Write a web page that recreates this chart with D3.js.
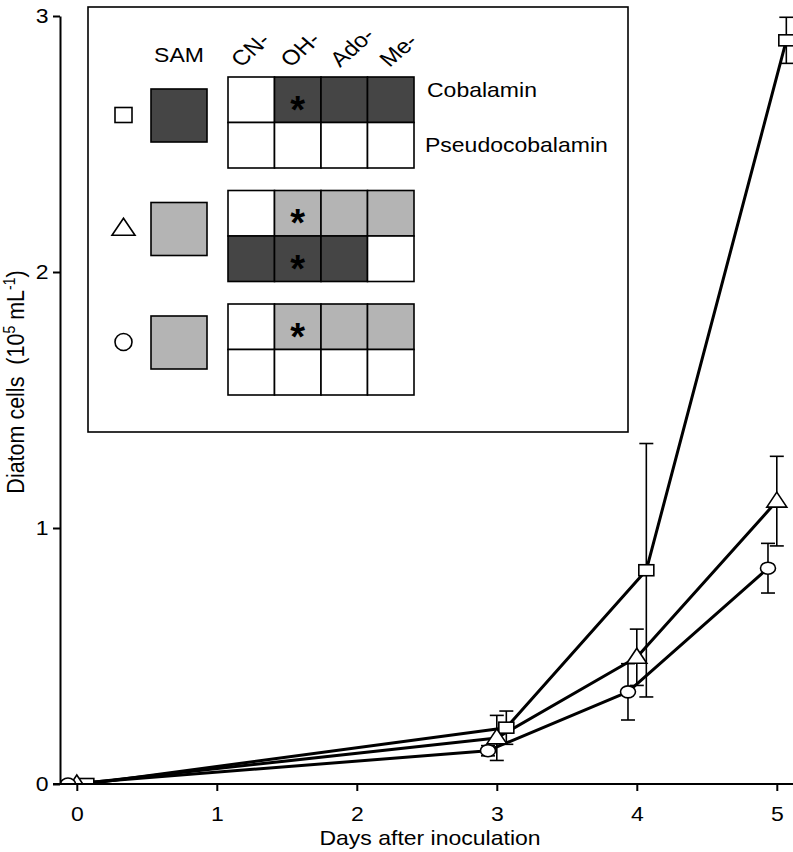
<!DOCTYPE html>
<html><head><meta charset="utf-8">
<script src="https://cdn.jsdelivr.net/npm/d3@7/dist/d3.min.js"></script>
<style>body{margin:0;background:#fff}</style>
</head><body>
<svg id="chart" width="793" height="852"></svg>
<script>
// ---------- data ----------
const days = [0, 3, 4, 5];
const squareMean   = [0.00, 0.22, 0.835, 2.905];
const squareErr    = [0.00, 0.065, 0.495, 0.09];
const triangleMean = [0.00, 0.18, 0.495, 1.105];
const triangleErr  = [0.00, 0.088, 0.11, 0.175];
const circleMean   = [0.00, 0.13, 0.36, 0.843];
const circleErr    = [0.00, 0.02, 0.11, 0.097];
const xTicks = [0, 1, 2, 3, 4, 5];
const yTicks = [0, 1, 2, 3];
const xTitle = "Days after inoculation";
const legendCols = ["CN-", "OH-", "Ado-", "Me-"];
const legendRowLabels = ["Cobalamin", "Pseudocobalamin"];
const legendSymbols = ["square", "triangle", "circle"];
const legendSAM = ["dark", "light", "light"];
const legendCells = [
  [["white","dark","dark","dark"], ["white","white","white","white"]],
  [["white","light","light","light"], ["dark","dark","dark","white"]],
  [["white","light","light","light"], ["white","white","white","white"]]
];
const legendStars = [
  [[0,1,0,0],[0,0,0,0]],
  [[0,1,0,0],[0,1,0,0]],
  [[0,1,0,0],[0,0,0,0]]
];

// ---------- setup ----------
const FONT = "'Liberation Sans', Arial, Helvetica, sans-serif";
const SX = 1.15; // horizontal stretch of the original figure
const fillColor = {white: "#ffffff", dark: "#454545", light: "#b4b4b4"};
const svg = d3.select("#chart");

const x = d3.scaleLinear().domain([-0.12, 5.12]).range([60, 793.6]);
const y = d3.scaleLinear().domain([0, 3]).range([784, 16]);

const series = [
  {symbol: "square",   mean: squareMean,   err: squareErr,   dodge: 0.068},
  {symbol: "triangle", mean: triangleMean, err: triangleErr, dodge: 0.0},
  {symbol: "circle",   mean: circleMean,   err: circleErr,   dodge: -0.063}
];

function drawMarker(g, type, cx, cy, w, h) {
  if (type === "square") {
    g.append("rect").attr("x", cx - w/2).attr("y", cy - h/2).attr("width", w).attr("height", h);
  } else if (type === "triangle") {
    g.append("path").attr("d", `M${cx},${cy - h*0.6}L${cx + w/2},${cy + h*0.4}L${cx - w/2},${cy + h*0.4}Z`);
  } else {
    g.append("ellipse").attr("cx", cx).attr("cy", cy).attr("rx", w/2).attr("ry", h/2);
  }
}
const markerSize = {square: [15, 11], triangle: [20, 15], circle: [15, 12]};

// ---------- clip ----------
svg.append("defs").append("clipPath").attr("id", "plotclip")
  .append("rect").attr("x", 60).attr("y", 0).attr("width", 740).attr("height", 783);

const plot = svg.append("g").attr("clip-path", "url(#plotclip)");

// lines
const line = d3.line().x(d => x(d.x)).y(d => y(d.y));
series.forEach(s => {
  const pts = days.map((d, i) => ({x: d + s.dodge, y: s.mean[i]}));
  plot.append("path").datum(pts).attr("d", line)
    .attr("fill", "none").attr("stroke", "#000").attr("stroke-width", 3)
    .attr("stroke-linejoin", "round");
});
// error bars
series.forEach(s => {
  days.forEach((d, i) => {
    if (s.err[i] <= 0) return;
    const cx = x(d + s.dodge);
    const y1 = y(s.mean[i] + s.err[i]), y2 = y(s.mean[i] - s.err[i]);
    const g = plot.append("g").attr("stroke", "#000").attr("stroke-width", 1.6);
    g.append("line").attr("x1", cx).attr("x2", cx).attr("y1", y1).attr("y2", y2);
    g.append("line").attr("x1", cx - 7).attr("x2", cx + 7).attr("y1", y1).attr("y2", y1);
    g.append("line").attr("x1", cx - 7).attr("x2", cx + 7).attr("y1", y2).attr("y2", y2);
  });
});
// markers
series.forEach(s => {
  const g = plot.append("g").attr("fill", "#fff").attr("stroke", "#000").attr("stroke-width", 1.6);
  days.forEach((d, i) => {
    const [w, h] = markerSize[s.symbol];
    drawMarker(g, s.symbol, x(d + s.dodge), y(s.mean[i]), w, h);
  });
});

// ---------- axes ----------
const xAxis = svg.append("g").attr("transform", `translate(0,${y(0)})`)
  .call(d3.axisBottom(x).tickValues(xTicks).tickFormat(d3.format("d")).tickSize(7).tickPadding(16));
xAxis.select(".domain").remove();
xAxis.selectAll("line").attr("stroke-width", 2);
xAxis.append("line").attr("x1", 53).attr("x2", 793).attr("y1", 0).attr("y2", 0)
  .attr("stroke", "#000").attr("stroke-width", 2);

const yAxis = svg.append("g").attr("transform", `translate(${x.range()[0]},0)`)
  .call(d3.axisLeft(y).tickValues(yTicks).tickFormat(d3.format("d")).tickSize(7).tickPadding(3).tickSizeOuter(0));
yAxis.select(".domain").attr("stroke-width", 2);
yAxis.selectAll("line").attr("stroke-width", 2);

svg.selectAll(".tick text").attr("font-family", FONT).attr("font-size", 20).attr("fill", "#000")
  .attr("transform", `scale(${SX},1)`);

function stext(g, str, tx, ty, opts = {}) {
  const t = g.append("text").text(str)
    .attr("transform", `translate(${tx},${ty}) scale(${SX},1)` + (opts.rotate ? ` rotate(${opts.rotate})` : ""))
    .attr("font-family", FONT).attr("font-size", opts.size || 20)
    .attr("text-anchor", opts.anchor || "start").attr("fill", "#000");
  if (opts.weight) t.attr("font-weight", opts.weight);
  return t;
}

// axis titles
stext(svg, xTitle, 430, 845, {anchor: "middle"});
const yt = svg.append("text")
  .attr("transform", `translate(24,382) scale(${SX},1) rotate(-90)`)
  .attr("font-family", FONT).attr("font-size", 21.5).attr("text-anchor", "middle")
  .attr("xml:space", "preserve");
yt.append("tspan").text("Diatom cells\u00a0\u00a0(10");
yt.append("tspan").text("5").attr("font-size", 14).attr("dy", -8);
yt.append("tspan").text(" mL").attr("dy", 8);
yt.append("tspan").text("-1").attr("font-size", 14).attr("dy", -8);
yt.append("tspan").text(")").attr("dy", 8);

// ---------- legend ----------
const leg = svg.append("g");
leg.append("rect").attr("x", 88).attr("y", 7).attr("width", 540).attr("height", 425)
  .attr("fill", "#fff").attr("stroke", "#000").attr("stroke-width", 1.6);

stext(leg, "SAM", 179, 62, {anchor: "middle"});
const colX = d3.scaleBand().domain(legendCols).range([228, 414]);
legendCols.forEach((c, i) => stext(leg, c, 241 + i * 49.5, 68, {rotate: -45, size: 21}));

const groupTop = i => 77 + i * 113.5;
const rowH = 45.5;
legendSymbols.forEach((sym, gi) => {
  const top = groupTop(gi);
  const sg = leg.append("g").attr("fill", "#fff").attr("stroke", "#000").attr("stroke-width", 1.6);
  const symSize = {square: [17, 15], triangle: [23, 17], circle: [17, 17]}[sym];
  drawMarker(sg, sym, 123.5, top + 38, symSize[0], symSize[1]);
  leg.append("rect").attr("x", 151).attr("y", top + 12).attr("width", 56).attr("height", 53)
    .attr("fill", fillColor[legendSAM[gi]]).attr("stroke", "#000").attr("stroke-width", 1.6);
  legendCells[gi].forEach((row, ri) => {
    row.forEach((cell, ci) => {
      const cx0 = colX(legendCols[ci]);
      leg.append("rect").attr("x", cx0).attr("y", top + ri * rowH)
        .attr("width", colX.bandwidth()).attr("height", rowH)
        .attr("fill", fillColor[cell]).attr("stroke", "#000").attr("stroke-width", 1.6);
      if (legendStars[gi][ri][ci]) {
        leg.append("text").text("*")
          .attr("x", cx0 + colX.bandwidth() / 2).attr("y", top + ri * rowH + rowH / 2 + 23)
          .attr("text-anchor", "middle").attr("font-family", FONT).attr("font-weight", "bold")
          .attr("font-size", 38).attr("fill", "#000");
      }
    });
  });
});
stext(leg, legendRowLabels[0], 427, 97);
stext(leg, legendRowLabels[1], 425, 152);
</script>
</body></html>
